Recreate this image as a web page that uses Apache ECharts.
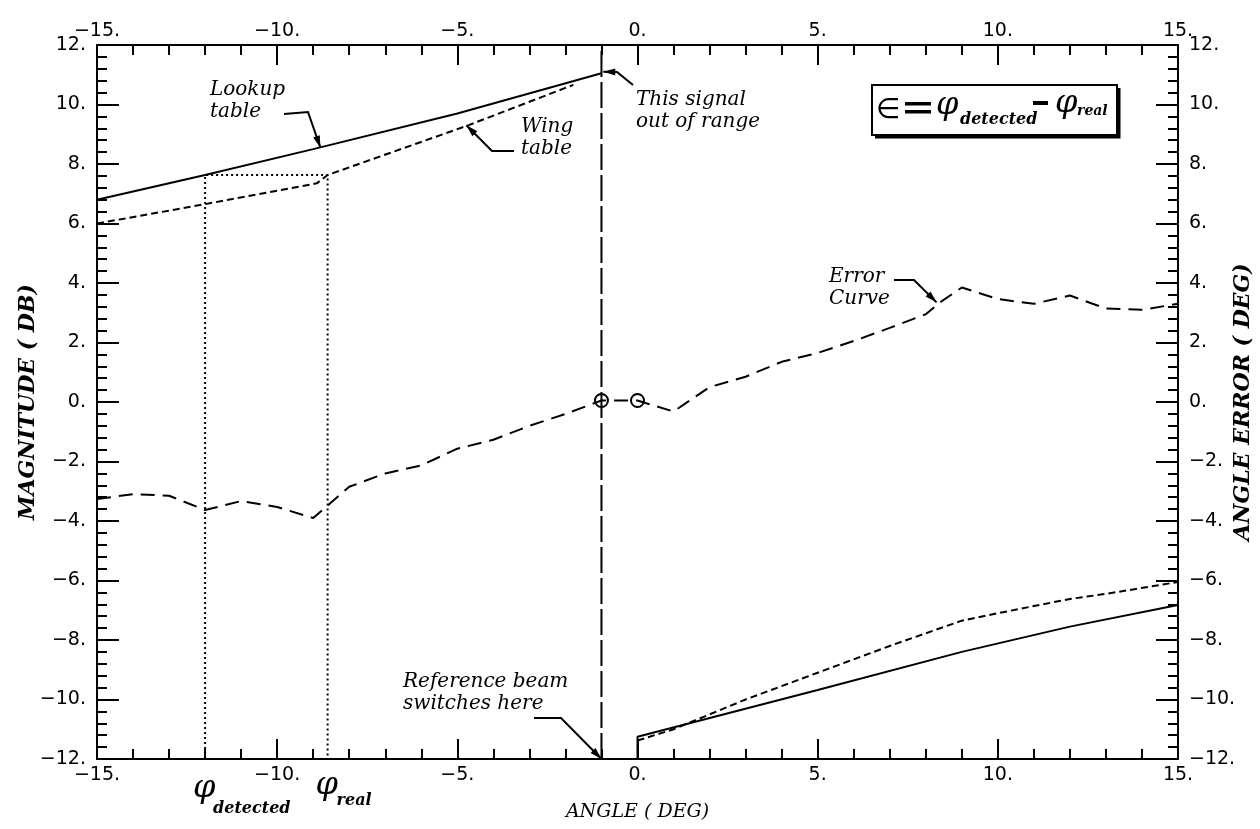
<!DOCTYPE html>
<html><head><meta charset="utf-8">
<script src="https://cdn.jsdelivr.net/npm/echarts@6/dist/echarts.min.js"></script>
<style>html,body{margin:0;padding:0;background:#fff;overflow:hidden}#c{width:1260px;height:829px}</style>
</head><body><div id="c"></div>
<script>
// ---- data ----
const lookupUpperX = [-15, -12, -9, -5, -1];
const lookupUpperY = [6.8, 7.63, 8.5, 9.7, 11.05];
const wingUpperX = [-15, -12, -8.9, -8.6, -4.7, -1.78];
const wingUpperY = [6.0, 6.65, 7.35, 7.63, 9.3, 10.66];
const lookupLowerX = [0, 0, 5, 9, 12, 15];
const lookupLowerY = [-12, -11.25, -9.68, -8.4, -7.55, -6.82];
const wingLowerX = [0, 1, 2, 3, 5, 7, 9, 10, 12, 13, 15];
const wingLowerY = [-11.38, -11.0, -10.5, -10.0, -9.1, -8.2, -7.35, -7.1, -6.62, -6.45, -6.05];
const errorX = [-15, -14, -13, -12, -11, -10, -9, -8, -7, -6, -5, -4, -3, -2, -1, 0, 1, 2, 3, 4, 5, 6, 7, 8, 8.4, 9, 10, 11, 12, 13, 14, 15];
const errorY = [-3.26, -3.1, -3.15, -3.63, -3.33, -3.53, -3.9, -2.85, -2.4, -2.13, -1.57, -1.27, -0.8, -0.4, 0.05, 0.05, -0.32, 0.5, 0.85, 1.35, 1.65, 2.05, 2.49, 2.95, 3.35, 3.85, 3.46, 3.3, 3.58, 3.14, 3.1, 3.3];
const errorMarkX = [-1, 0];
const errorMarkY = [0.05, 0.05];
const detectedX = -12, realX = -8.6, detRealY = 7.63;
const switchX = -1;
const angleTicks = {min: -15, max: 15, interval: 5};
const magTicks = {min: -12, max: 12, interval: 2};

const zip = (xs, ys) => xs.map((x, i) => [x, ys[i]]);
const fmt = v => (v < 0 ? '\u2212' : '') + Math.abs(v) + '.';

const labelStyle = {color: '#000', fontFamily: 'DejaVu Sans', fontSize: 19, formatter: fmt};
const nameStyle = (size, weight) => ({color: '#000', fontFamily: 'DejaVu Serif', fontStyle: 'italic', fontWeight: weight, fontSize: size});
const lineBlack = {color: '#000', width: 2};

function xAx(pos, withName, margin) {
  return Object.assign({
    type: 'value', position: pos, min: angleTicks.min, max: angleTicks.max, interval: angleTicks.interval,
    axisLine: {show: true, onZero: false, lineStyle: lineBlack},
    axisTick: {show: true, inside: true, length: 20, lineStyle: lineBlack},
    minorTick: {show: true, splitNumber: 5, length: 10, lineStyle: lineBlack},
    splitLine: {show: false}, minorSplitLine: {show: false},
    axisLabel: Object.assign({margin: margin}, labelStyle)
  }, withName ? {name: 'ANGLE ( DEG)', nameLocation: 'middle', nameGap: 44, nameMoveOverlap: false, nameTextStyle: nameStyle(19, 'normal')} : {});
}
function yAx(pos, name, gap) {
  return {
    type: 'value', position: pos, min: magTicks.min, max: magTicks.max, interval: magTicks.interval,
    axisLine: {show: true, onZero: false, lineStyle: lineBlack},
    axisTick: {show: true, inside: true, length: 22, lineStyle: lineBlack},
    minorTick: {show: true, splitNumber: 5, length: 10, lineStyle: lineBlack},
    splitLine: {show: false}, minorSplitLine: {show: false},
    axisLabel: Object.assign({margin: 11}, labelStyle),
    name: name, nameLocation: 'middle', nameRotate: 90, nameGap: gap, nameMoveOverlap: false, nameTextStyle: nameStyle(22, 'bold')
  };
}

const chart = echarts.init(document.getElementById('c'), null, {renderer: 'canvas', width: 1260, height: 829});
const lineSeries = (data, type, yIdx, w) => ({
  type: 'line', data: data, xAxisIndex: 0, yAxisIndex: yIdx || 0, symbol: 'none', silent: true,
  lineStyle: {color: '#000', width: w || 2, type: type}, z: 3
});

chart.setOption({
  animation: false,
  backgroundColor: '#fff',
  grid: {left: 97, right: 82, top: 45, bottom: 70, containLabel: false, outerBoundsMode: 'none'},
  xAxis: [xAx('bottom', true, 7), xAx('top', false, 4)],
  yAxis: [yAx('left', 'MAGNITUDE ( DB)', 58), yAx('right', 'ANGLE ERROR ( DEG)', 54)],
  series: [
    lineSeries(zip(lookupUpperX, lookupUpperY), 'solid'),
    lineSeries(zip(wingUpperX, wingUpperY), [7, 4]),
    lineSeries(zip(lookupLowerX, lookupLowerY), 'solid'),
    lineSeries(zip(wingLowerX, wingLowerY), [7, 4]),
    lineSeries(zip(errorX, errorY), [14, 8], 1),
    lineSeries([[detectedX, magTicks.min], [detectedX, detRealY], [realX, detRealY], [realX, magTicks.min]], [2, 3]),
    lineSeries([[switchX, magTicks.min], [switchX, magTicks.max]], [26, 5]),
    {type: 'scatter', data: zip(errorMarkX, errorMarkY), xAxisIndex: 0, yAxisIndex: 1, symbol: 'circle', symbolSize: 13,
     itemStyle: {color: 'rgba(255,255,255,0)', borderColor: '#000', borderWidth: 2, opacity: 1}, z: 6, silent: true}
  ]
});

// ---- annotations ----
const P = (x, y, yi) => chart.convertToPixel({xAxisIndex: 0, yAxisIndex: yi || 0}, [x, y]);
function leader(points) {
  const n = points.length;
  const [x1, y1] = points[n - 2], [x2, y2] = points[n - 1];
  const a = Math.atan2(y2 - y1, x2 - x1), L = 12, W = 3.5;
  const bx = x2 - L * Math.cos(a), by = y2 - L * Math.sin(a);
  const px = -Math.sin(a) * W, py = Math.cos(a) * W;
  return [
    {type: 'polyline', shape: {points: points}, style: {stroke: '#000', lineWidth: 2, fill: null}, z: 10},
    {type: 'polygon', shape: {points: [[x2, y2], [bx + px, by + py], [bx - px, by - py]]}, style: {fill: '#000'}, z: 10}
  ];
}
function txt(s, x, y, size, opts) {
  return {type: 'text', x: x, y: y, z: 10, style: Object.assign({
    text: s, fill: '#000', fontFamily: 'DejaVu Serif', fontStyle: 'italic', fontSize: size,
    lineHeight: Math.round(size * 1.12), textVerticalAlign: 'top'
  }, opts || {})};
}
const g = [];
g.push(txt('Lookup\ntable', 210, 79, 20));
g.push(...leader([[284, 114], [308, 112], P(-8.8, 8.55)]));
g.push(txt('Wing\ntable', 521, 116, 20));
g.push(...leader([[514, 151], [492, 151], P(-4.75, 9.3)]));
g.push(txt('This signal\nout of range', 636, 89, 20));
g.push(...leader([[633, 85], [617, 72], P(-0.95, 11.1)]));
g.push(txt('Error\nCurve', 829, 266, 20));
g.push(...leader([[894, 280], [914, 280], P(8.3, 3.35, 1)]));
g.push(txt('Reference beam\nswitches here', 403, 671, 20));
g.push(...leader([[534, 718], [561, 718], P(switchX, magTicks.min)]));

// phi labels under the axis
const pd = P(detectedX, magTicks.min), pr = P(realX, magTicks.min);
g.push(txt('\u03C6', pd[0] - 12, 771, 32));
g.push(txt('detected', pd[0] + 8, 800, 16, {fontWeight: 'bold'}));
g.push(txt('\u03C6', pr[0] - 12, 768, 32));
g.push(txt('real', pr[0] + 9, 792, 16, {fontWeight: 'bold'}));

// formula box
g.push({type: 'polyline', shape: {points: [[875, 137], [1119, 137], [1119, 88]]}, style: {stroke: '#000', lineWidth: 3, fill: null}, z: 9});
g.push({type: 'rect', shape: {x: 872, y: 85, width: 245, height: 50}, style: {stroke: '#000', lineWidth: 2, fill: '#fff'}, z: 9});
g.push(txt('\u2208', 876, 95, 28, {fontStyle: 'normal', fontFamily: 'DejaVu Sans'}));
g.push({type: 'rect', shape: {x: 905, y: 102, width: 26, height: 3.5}, style: {fill: '#000'}, z: 10});
g.push({type: 'rect', shape: {x: 905, y: 110, width: 26, height: 3.5}, style: {fill: '#000'}, z: 10});
g.push(txt('\u03C6', 936, 88, 32));
g.push(txt('detected', 960, 111, 16, {fontWeight: 'bold'}));
g.push({type: 'rect', shape: {x: 1033, y: 101, width: 15, height: 4}, style: {fill: '#000'}, z: 10});
g.push(txt('\u03C6', 1055, 86, 32));
g.push(txt('real', 1077, 103, 14, {fontWeight: 'bold'}));

chart.setOption({graphic: {elements: g}});
</script>
</body></html>
